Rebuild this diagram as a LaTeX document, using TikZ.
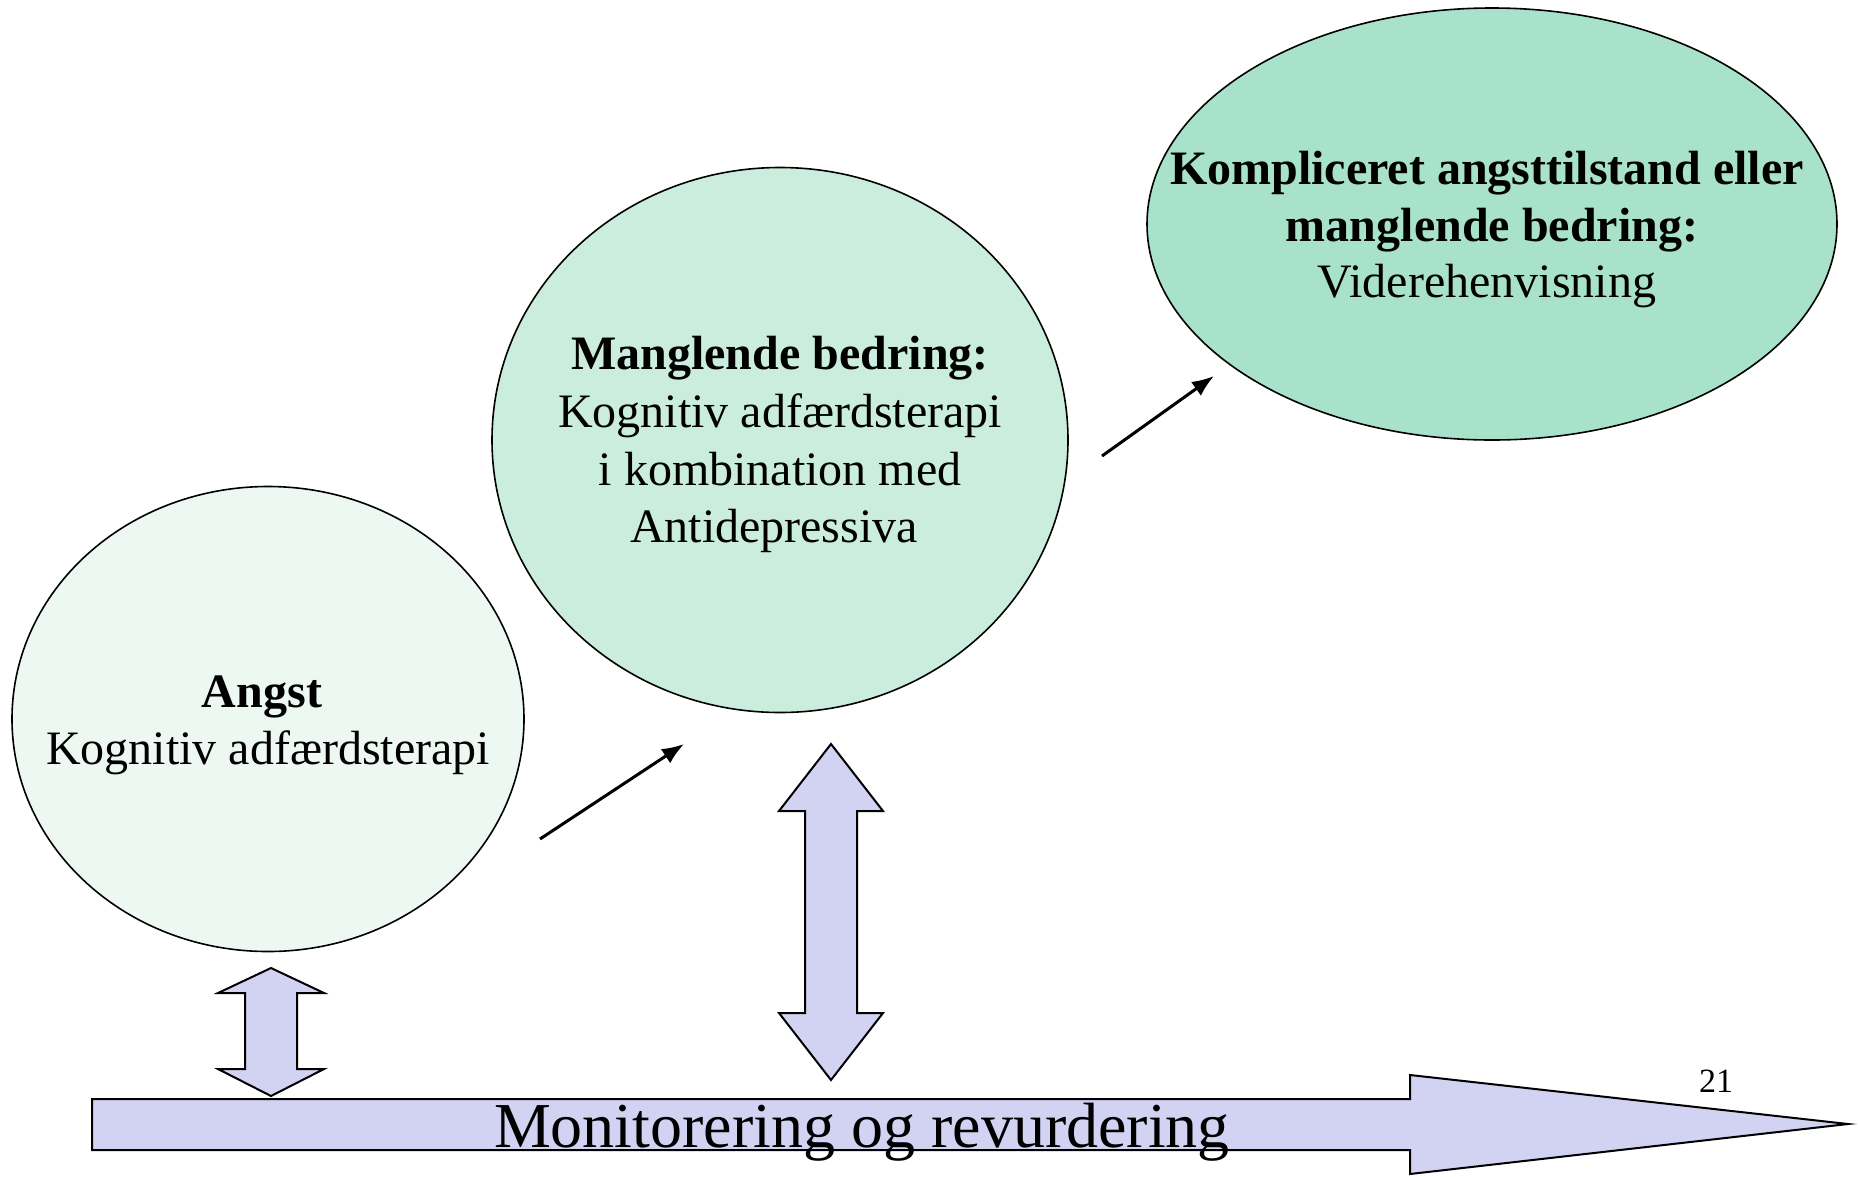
\documentclass[tikz,border=0pt]{standalone}
\usepackage{fontspec}
\setmainfont{Liberation Serif}
\usetikzlibrary{arrows.meta,shapes.geometric}
\definecolor{eone}{RGB}{237,248,242}
\definecolor{etwo}{RGB}{202,237,222}
\definecolor{ethree}{RGB}{168,226,202}
\definecolor{lav}{RGB}{210,210,242}
\tikzset{
  oval/.style={ellipse, draw=black, line width=1.6pt, inner sep=0pt},
  txt/.style={anchor=base, inner sep=0pt, font=\fontsize{48}{57}\selectfont},
  btxt/.style={txt, font=\fontsize{48}{57}\selectfont\bfseries},
  blk/.style={draw=black, fill=lav, line width=2pt, line join=miter},
  ptr/.style={line width=3pt, -{Latex[length=22pt,width=17pt]}}
}
\begin{document}
\begin{tikzpicture}[x=1pt,y=-1pt]
\useasboundingbox (0,0) rectangle (1858,1176);
% ellipses
\node[oval, fill=eone, minimum width=512, minimum height=465] (e1) at (268,719) {};
\node[oval, fill=etwo, minimum width=576, minimum height=545] (e2) at (780,440) {};
\node[oval, fill=ethree, minimum width=690, minimum height=432] (e3) at (1492,224) {};
% texts
\node[btxt] (t11) at (262,707) {Angst};
\node[txt] (t12) at (268,764) {Kognitiv adfærdsterapi};
\node[btxt] (t21) at (780,369) {Manglende bedring:};
\node[txt] (t22) at (780,427) {Kognitiv adfærdsterapi};
\node[txt] (t23) at (780,485) {i kombination med};
\node[txt] (t24) at (774,542) {Antidepressiva};
\node[btxt] (t31) at (1487,184) {Kompliceret angsttilstand eller};
\node[btxt] (t32) at (1492,241) {manglende bedring:};
\node[txt] (t33) at (1487,297) {Viderehenvisning};
% small arrows
\coordinate (a1s) at (540,839);
\coordinate (a1e) at (684,744);
\coordinate (a2s) at (1102,456);
\coordinate (a2e) at (1214,376);
\draw[ptr] (a1s) -- (a1e);
\draw[ptr] (a2s) -- (a2e);
% long arrow
\draw[blk] (92,1099) -- (1410,1099) -- (1410,1075) -- (1848,1124) -- (1410,1174) -- (1410,1150) -- (92,1150) -- cycle;
\node[anchor=base, inner sep=0pt, font=\fontsize{64}{70}\selectfont] (mon) at (862,1147) {Monitorering og revurdering};
\node[anchor=base, inner sep=0pt, font=\fontsize{34}{38}\selectfont] (pg) at (1716,1092) {21};
% left double arrow
\draw[blk] (271,968) -- (324,993) -- (297,993) -- (297,1069) -- (324,1069) -- (271,1096) -- (218,1069) -- (245,1069) -- (245,993) -- (218,993) -- cycle;
% middle double arrow
\draw[blk] (831,744) -- (883,811) -- (857,811) -- (857,1013) -- (883,1013) -- (831,1080) -- (779,1013) -- (805,1013) -- (805,811) -- (779,811) -- cycle;
\end{tikzpicture}
\end{document}
